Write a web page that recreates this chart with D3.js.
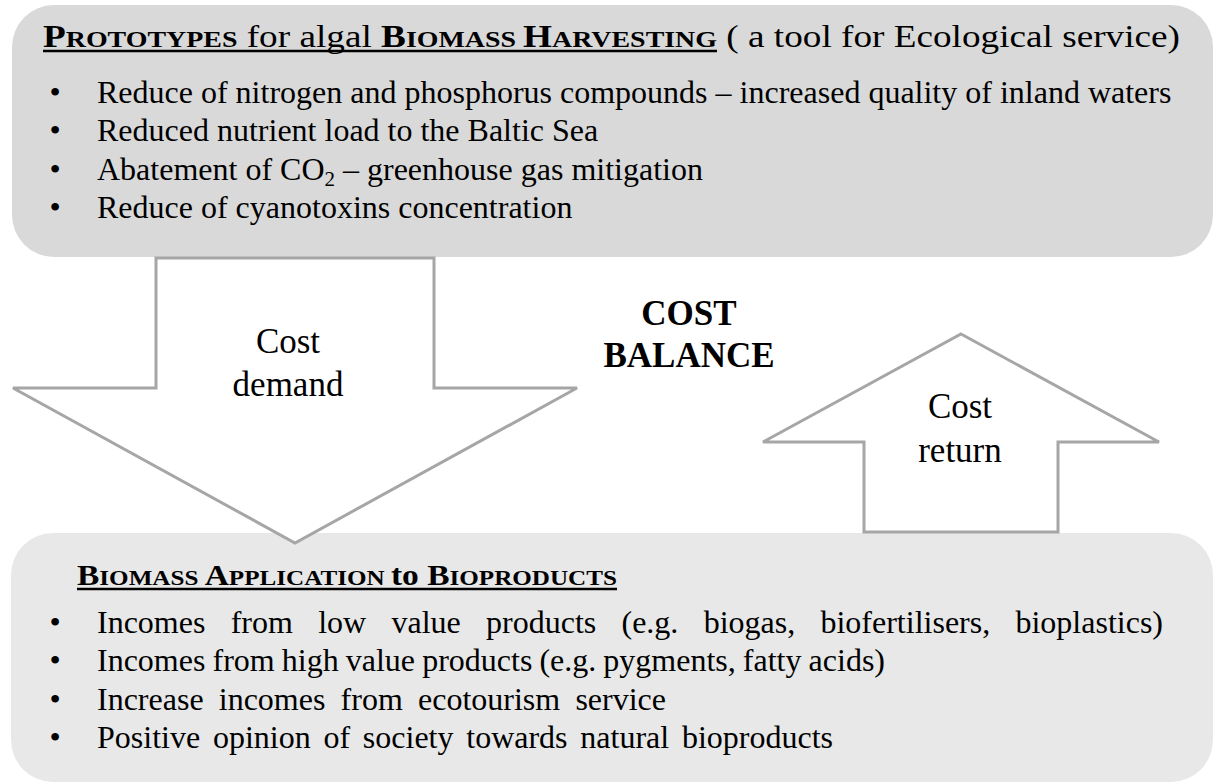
<!DOCTYPE html>
<html>
<head>
<meta charset="utf-8">
<script src="https://cdn.jsdelivr.net/npm/d3@7"></script>
<style>
  body { margin: 0; background: #fff; }
  svg { display: block; }
  text { font-family: "Liberation Serif", "Times New Roman", serif; fill: #000; }
</style>
</head>
<body>
<svg></svg>
<script>
// title pieces: [text, style]  cap = big small-caps letter, sc = small-caps rest
const topTitle = [
    ["P", "cap"], ["ROTOTYPES", "sc"], [" for algal ", "plain"],
    ["B", "cap"], ["IOMASS ", "sc"], ["H", "cap"], ["ARVESTING", "sc"],
    [" ( a tool for Ecological service)", "rest"]
];
const bottomTitle = [
    ["B", "cap"], ["IOMASS ", "sc"], ["A", "cap"], ["PPLICATION ", "sc"],
    ["to ", "bold"], ["B", "cap"], ["IOPRODUCTS", "sc"]
];

const topBullets = [
    "Reduce of nitrogen and phosphorus compounds \u2013 increased quality of inland waters",
    "Reduced nutrient load to the Baltic Sea",
    "Abatement of CO2 \u2013 greenhouse gas mitigation",
    "Reduce of cyanotoxins concentration"
];
const bottomBullets = [
    "Incomes from low value products (e.g. biogas, biofertilisers, bioplastics)",
    "Incomes from high value products (e.g. pygments, fatty acids)",
    "Increase incomes from ecotourism service",
    "Positive opinion of society towards natural bioproducts"
];

const balanceLabel = ["COST", "BALANCE"];
const demandLabel = ["Cost", "demand"];
const returnLabel = ["Cost", "return"];

drawDiagram();

function drawDiagram(){
    const W = 1215, H = 784;
    const svg = d3.select("svg").attr("width", W).attr("height", H);

    // background boxes
    svg.append("rect")
        .attr("x", 12).attr("y", 5).attr("width", 1201).attr("height", 252)
        .attr("rx", 42).attr("fill", "#d9d9d9");
    svg.append("rect")
        .attr("x", 11).attr("y", 533).attr("width", 1202).attr("height", 249)
        .attr("rx", 42).attr("fill", "#e7e8e7");

    // title with small caps + underline
    function drawTitle(parts, x, y, fs, targetW, underlineUntil){
        const t = svg.append("text").attr("x", x).attr("y", y).attr("font-size", fs);
        parts.forEach(p => {
            const ts = t.append("tspan").text(p[0]);
            if (p[1] === "cap") ts.attr("font-weight", "bold");
            if (p[1] === "sc") ts.attr("font-weight", "bold").attr("font-size", fs * 0.75);
            if (p[1] === "bold") ts.attr("font-weight", "bold");
        });
        const node = t.node();
        const natural = node.getComputedTextLength();
        let nChars = 0;
        parts.slice(0, underlineUntil).forEach(p => nChars += p[0].length);
        const under = node.getSubStringLength(0, nChars);
        t.attr("textLength", targetW).attr("lengthAdjust", "spacingAndGlyphs");
        svg.append("line")
            .attr("x1", x).attr("x2", x + under * targetW / natural)
            .attr("y1", y + 4).attr("y2", y + 4)
            .attr("stroke", "#000").attr("stroke-width", 2.5);
    }

    drawTitle(topTitle, 43, 47, 31, 1137, 7);
    drawTitle(bottomTitle, 77, 585, 29, 540, bottomTitle.length);

    // bullet lists
    function drawBullets(lines, y0, step, ends){
        lines.forEach((line, i) => {
            const y = y0 + i * step;
            svg.append("text")
                .attr("x", 55).attr("y", y).attr("font-size", 32)
                .attr("text-anchor", "middle").text("\u2022");
            const t = svg.append("text").attr("x", 97).attr("y", y).attr("font-size", 32);
            if (line.indexOf("CO2") >= 0) {
                const k = line.indexOf("CO2");
                t.append("tspan").text(line.slice(0, k + 2));
                t.append("tspan").attr("font-size", 21).attr("dy", 6).text("2");
                t.append("tspan").attr("dy", -6).text(line.slice(k + 3));
            } else {
                t.text(line);
            }
            if (ends) {
                const natural = t.node().getComputedTextLength();
                const spaces = line.split(" ").length - 1;
                t.style("word-spacing", ((ends[i] - 97 - natural) / spaces) + "px");
            }
        });
    }

    drawBullets(topBullets, 103, 38.4, null);
    drawBullets(bottomBullets, 633, 38.4, [1163, 885, 666, 833]);

    // arrows
    const line = d3.line();
    const down = {cx: 295, sh: 139, wh: 282, top: 258, shoulder: 388, tip: 543};
    const up = {cx: 961, sh: 97, wh: 198, tip: 334, shoulder: 442, bottom: 532};

    const downPts = [
        [down.cx - down.sh, down.top], [down.cx + down.sh, down.top],
        [down.cx + down.sh, down.shoulder], [down.cx + down.wh, down.shoulder],
        [down.cx, down.tip], [down.cx - down.wh, down.shoulder],
        [down.cx - down.sh, down.shoulder]
    ];
    const upPts = [
        [up.cx, up.tip], [up.cx + up.wh, up.shoulder], [up.cx + up.sh, up.shoulder],
        [up.cx + up.sh, up.bottom], [up.cx - up.sh, up.bottom],
        [up.cx - up.sh, up.shoulder], [up.cx - up.wh, up.shoulder]
    ];

    [downPts, upPts].forEach(pts => {
        svg.append("path")
            .attr("d", line(pts) + "Z")
            .attr("fill", "#fff")
            .attr("stroke", "#a6a6a6")
            .attr("stroke-width", 3);
    });

    // arrow labels
    function label(lines, cx, y0, step, bold){
        lines.forEach((s, i) => {
            svg.append("text")
                .attr("x", cx).attr("y", y0 + i * step)
                .attr("font-size", 35)
                .attr("font-weight", bold ? "bold" : "normal")
                .attr("text-anchor", "middle")
                .text(s);
        });
    }
    label(demandLabel, 288, 353, 43, false);
    label(returnLabel, 960, 418, 44, false);
    label(balanceLabel, 689, 325, 42, true);
}
</script>
</body>
</html>
